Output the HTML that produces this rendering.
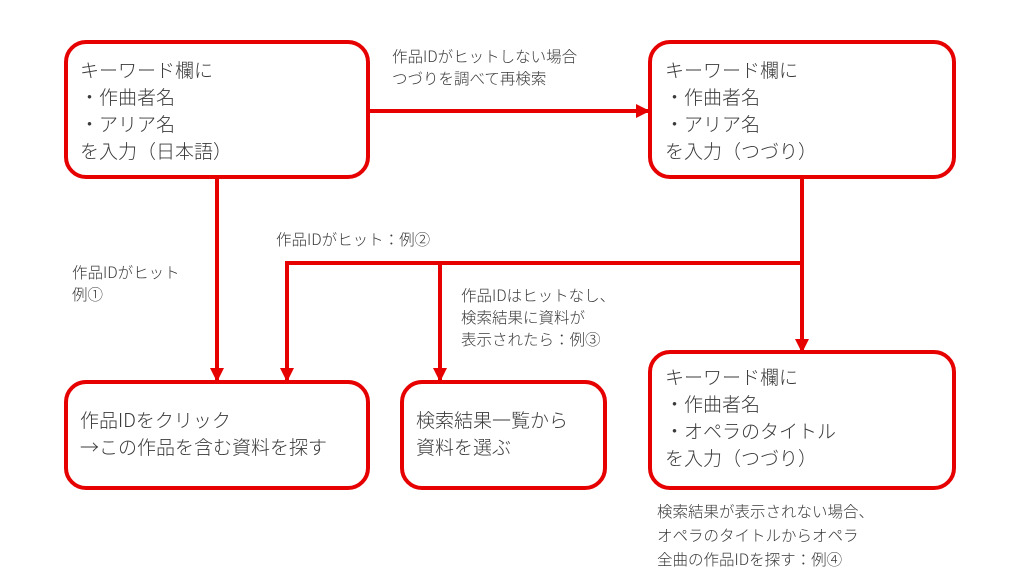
<!DOCTYPE html>
<html><head><meta charset="utf-8"><style>
body{margin:0;width:1024px;height:576px;background:#fff;position:relative;overflow:hidden;font-family:"Liberation Sans","Noto Sans CJK JP",sans-serif;color:#3a3a3a}
.b{position:absolute;border:4px solid #e60000;border-radius:22px;box-sizing:border-box;background:#fff}
.t{position:absolute;font-size:19px;line-height:27px;white-space:nowrap;font-family:"Noto Sans CJK JP",sans-serif;font-weight:300}
.l{position:absolute;font-size:15.5px;line-height:22px;white-space:nowrap;font-family:"Noto Sans CJK JP",sans-serif;font-weight:300}
svg{position:absolute;left:0;top:0}
</style></head><body>
<svg width="1024" height="576">
<defs><marker id="a" markerWidth="14" markerHeight="14" refX="12" refY="7" orient="auto" markerUnits="userSpaceOnUse"><path d="M0,0 L14,7 L0,14 z" fill="#e60000"/></marker></defs>
<g stroke="#e60000" stroke-width="4" fill="none">
<line x1="369" y1="111" x2="648" y2="111" marker-end="url(#a)"/>
<line x1="217" y1="178" x2="217" y2="380" marker-end="url(#a)"/>
<line x1="802" y1="178" x2="802" y2="351" marker-end="url(#a)"/>
<polyline points="802,263 287,263 287,380" marker-end="url(#a)"/>
<line x1="440" y1="263" x2="440" y2="380" marker-end="url(#a)"/>
</g></svg>
<div class="b" style="left:64px;top:40px;width:306px;height:139px"></div>
<div class="b" style="left:648px;top:40px;width:308px;height:139px"></div>
<div class="b" style="left:64px;top:380px;width:306px;height:110px"></div>
<div class="b" style="left:400px;top:380px;width:207px;height:110px"></div>
<div class="b" style="left:648px;top:350px;width:308px;height:140px"></div>
<div class="t" style="left:80px;top:56px">キーワード欄に<br>・作曲者名<br>・アリア名<br>を入力（日本語）</div>
<div class="t" style="left:665px;top:56px">キーワード欄に<br>・作曲者名<br>・アリア名<br>を入力（つづり）</div>
<div class="t" style="left:665px;top:363px">キーワード欄に<br>・作曲者名<br>・オペラのタイトル<br>を入力（つづり）</div>
<div class="t" style="left:80px;top:406px">作品IDをクリック<br>→この作品を含む資料を探す</div>
<div class="t" style="left:416px;top:406px">検索結果一覧から<br>資料を選ぶ</div>
<div class="l" style="left:392px;top:45px">作品IDがヒットしない場合<br>つづりを調べて再検索</div>
<div class="l" style="left:72px;top:261px">作品IDがヒット<br>例①</div>
<div class="l" style="left:276px;top:228px">作品IDがヒット：例②</div>
<div class="l" style="left:461px;top:284px">作品IDはヒットなし、<br>検索結果に資料が<br>表示されたら：例③</div>
<div class="l" style="left:657px;top:499px;line-height:24px">検索結果が表示されない場合、<br>オペラのタイトルからオペラ<br>全曲の作品IDを探す：例④</div>
</body></html>
